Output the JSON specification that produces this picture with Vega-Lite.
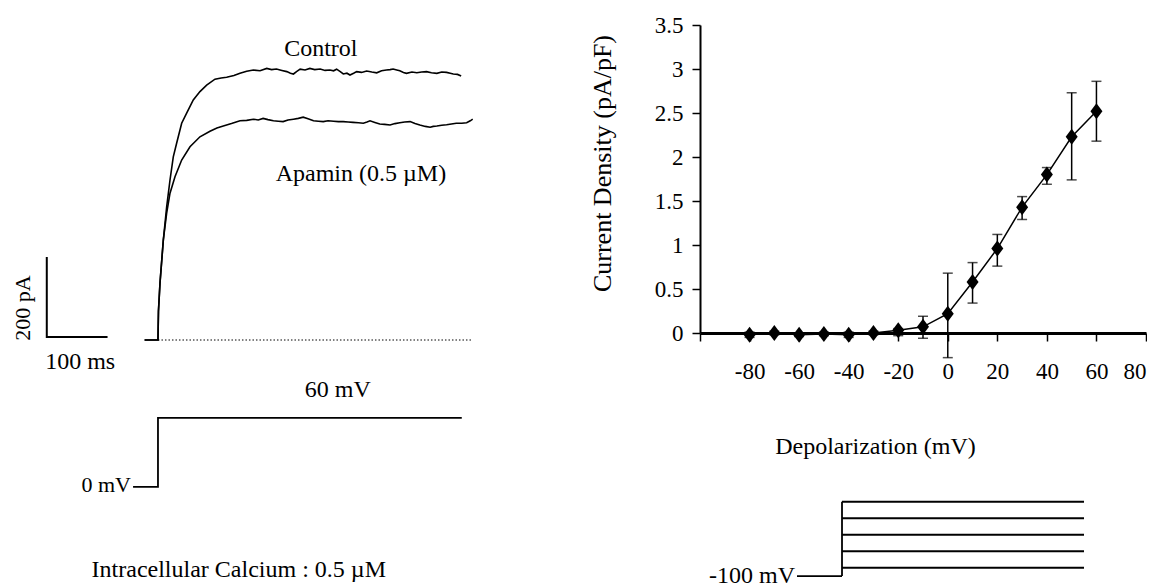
{
  "$schema": "https://vega.github.io/schema/vega-lite/v6.json",
  "padding": 0,
  "background": "white",
  "bounds": "flush",
  "spacing": 220,
  "config": {
    "view": {"stroke": null},
    "font": "Liberation Serif",
    "text": {"font": "Liberation Serif", "fontSize": 24, "color": "black"},
    "axis": {
      "labelFont": "Liberation Serif", "titleFont": "Liberation Serif",
      "labelFontSize": 23, "titleFontSize": 24, "labelColor": "black", "titleColor": "black",
      "titleFontWeight": "normal", "domainColor": "black", "tickColor": "black",
      "tickWidth": 1.5, "grid": false, "tickSize": 8
    }
  },
  "datasets": {
    "traces": [
      {"series": "Control", "t": -22, "I": 0}, {"series": "Control", "t": 0, "I": 0}, {"series": "Control", "t": 0.8, "I": 72},
      {"series": "Control", "t": 3.3, "I": 142}, {"series": "Control", "t": 8.8, "I": 250}, {"series": "Control", "t": 14.3, "I": 333},
      {"series": "Control", "t": 19.8, "I": 400}, {"series": "Control", "t": 25.2, "I": 458}, {"series": "Control", "t": 30.7, "I": 492},
      {"series": "Control", "t": 39, "I": 542}, {"series": "Control", "t": 47.2, "I": 567}, {"series": "Control", "t": 58.1, "I": 600},
      {"series": "Control", "t": 69.1, "I": 621}, {"series": "Control", "t": 80.1, "I": 637}, {"series": "Control", "t": 93.8, "I": 652},
      {"series": "Control", "t": 104, "I": 655}, {"series": "Control", "t": 113, "I": 657}, {"series": "Control", "t": 125, "I": 661},
      {"series": "Control", "t": 135, "I": 667}, {"series": "Control", "t": 146, "I": 672}, {"series": "Control", "t": 157, "I": 675},
      {"series": "Control", "t": 168, "I": 673}, {"series": "Control", "t": 179, "I": 679}, {"series": "Control", "t": 187, "I": 676},
      {"series": "Control", "t": 195, "I": 677.5}, {"series": "Control", "t": 204, "I": 674}, {"series": "Control", "t": 212, "I": 671},
      {"series": "Control", "t": 218, "I": 667}, {"series": "Control", "t": 223, "I": 665}, {"series": "Control", "t": 228, "I": 671},
      {"series": "Control", "t": 234, "I": 677}, {"series": "Control", "t": 242, "I": 675}, {"series": "Control", "t": 250, "I": 679},
      {"series": "Control", "t": 258, "I": 676}, {"series": "Control", "t": 267, "I": 677.5}, {"series": "Control", "t": 275, "I": 674},
      {"series": "Control", "t": 283, "I": 675}, {"series": "Control", "t": 289, "I": 673}, {"series": "Control", "t": 294, "I": 677},
      {"series": "Control", "t": 300, "I": 671}, {"series": "Control", "t": 305, "I": 665}, {"series": "Control", "t": 311, "I": 667},
      {"series": "Control", "t": 316, "I": 662.5}, {"series": "Control", "t": 322, "I": 667}, {"series": "Control", "t": 327, "I": 671},
      {"series": "Control", "t": 335, "I": 669}, {"series": "Control", "t": 343.5, "I": 672.5}, {"series": "Control", "t": 352, "I": 670},
      {"series": "Control", "t": 360, "I": 668}, {"series": "Control", "t": 368, "I": 673}, {"series": "Control", "t": 376, "I": 675},
      {"series": "Control", "t": 382, "I": 676}, {"series": "Control", "t": 387, "I": 677.5}, {"series": "Control", "t": 393, "I": 675},
      {"series": "Control", "t": 398, "I": 673}, {"series": "Control", "t": 404, "I": 669}, {"series": "Control", "t": 409, "I": 666.7},
      {"series": "Control", "t": 418, "I": 670}, {"series": "Control", "t": 426, "I": 668}, {"series": "Control", "t": 434, "I": 670},
      {"series": "Control", "t": 442, "I": 671}, {"series": "Control", "t": 450, "I": 668}, {"series": "Control", "t": 459, "I": 666.7},
      {"series": "Control", "t": 467, "I": 670}, {"series": "Control", "t": 475, "I": 669}, {"series": "Control", "t": 481, "I": 667},
      {"series": "Control", "t": 486, "I": 665}, {"series": "Control", "t": 493, "I": 664}, {"series": "Control", "t": 499, "I": 660},
      {"series": "Apamin", "t": -22, "I": 0}, {"series": "Apamin", "t": 0, "I": 0}, {"series": "Apamin", "t": 0.8, "I": 72},
      {"series": "Apamin", "t": 3.3, "I": 142}, {"series": "Apamin", "t": 8.8, "I": 250}, {"series": "Apamin", "t": 14.3, "I": 317},
      {"series": "Apamin", "t": 19.8, "I": 367}, {"series": "Apamin", "t": 28, "I": 408}, {"series": "Apamin", "t": 39, "I": 450},
      {"series": "Apamin", "t": 52.7, "I": 483}, {"series": "Apamin", "t": 69.1, "I": 508}, {"series": "Apamin", "t": 85.6, "I": 522},
      {"series": "Apamin", "t": 97, "I": 530}, {"series": "Apamin", "t": 107.5, "I": 535}, {"series": "Apamin", "t": 121, "I": 541},
      {"series": "Apamin", "t": 135, "I": 548}, {"series": "Apamin", "t": 146, "I": 549}, {"series": "Apamin", "t": 157, "I": 552},
      {"series": "Apamin", "t": 165, "I": 550}, {"series": "Apamin", "t": 173, "I": 554}, {"series": "Apamin", "t": 181, "I": 551},
      {"series": "Apamin", "t": 190, "I": 548}, {"series": "Apamin", "t": 198, "I": 547}, {"series": "Apamin", "t": 206, "I": 546},
      {"series": "Apamin", "t": 214, "I": 550}, {"series": "Apamin", "t": 223, "I": 552}, {"series": "Apamin", "t": 231, "I": 554},
      {"series": "Apamin", "t": 239, "I": 557}, {"series": "Apamin", "t": 247, "I": 553}, {"series": "Apamin", "t": 256, "I": 548},
      {"series": "Apamin", "t": 264, "I": 547}, {"series": "Apamin", "t": 272, "I": 546}, {"series": "Apamin", "t": 280, "I": 548},
      {"series": "Apamin", "t": 289, "I": 547}, {"series": "Apamin", "t": 297, "I": 546}, {"series": "Apamin", "t": 305, "I": 546},
      {"series": "Apamin", "t": 313, "I": 545}, {"series": "Apamin", "t": 321, "I": 544}, {"series": "Apamin", "t": 330, "I": 543},
      {"series": "Apamin", "t": 338, "I": 542}, {"series": "Apamin", "t": 344, "I": 545}, {"series": "Apamin", "t": 349, "I": 548},
      {"series": "Apamin", "t": 357, "I": 544}, {"series": "Apamin", "t": 365, "I": 540}, {"series": "Apamin", "t": 373, "I": 539},
      {"series": "Apamin", "t": 382, "I": 537.5}, {"series": "Apamin", "t": 390, "I": 541}, {"series": "Apamin", "t": 398, "I": 543},
      {"series": "Apamin", "t": 406, "I": 545}, {"series": "Apamin", "t": 415, "I": 546}, {"series": "Apamin", "t": 423, "I": 541},
      {"series": "Apamin", "t": 431, "I": 537.5}, {"series": "Apamin", "t": 440, "I": 534}, {"series": "Apamin", "t": 448, "I": 532},
      {"series": "Apamin", "t": 453, "I": 534}, {"series": "Apamin", "t": 459, "I": 535}, {"series": "Apamin", "t": 467, "I": 537},
      {"series": "Apamin", "t": 475, "I": 538}, {"series": "Apamin", "t": 483, "I": 540}, {"series": "Apamin", "t": 491, "I": 542},
      {"series": "Apamin", "t": 500, "I": 542}, {"series": "Apamin", "t": 508, "I": 543}, {"series": "Apamin", "t": 514, "I": 548},
      {"series": "Apamin", "t": 518, "I": 552}
    ],
    "baseline": [{"t": 0, "I": 0}, {"t": 518, "I": 0}],
    "scalebar": [{"k": 0, "t": -183, "I": 207.5}, {"k": 1, "t": -183, "I": 7.5}, {"k": 2, "t": -83, "I": 7.5}],
    "stepLeft": [{"k": 0, "t": -41, "V": 0}, {"k": 1, "t": 0, "V": 0}, {"k": 2, "t": 0, "V": 60}, {"k": 3, "t": 500, "V": 60}],
    "labelsI": [
      {"label": "Control", "t": 268, "I": 710},
      {"label": "Apamin (0.5 µM)", "t": 334, "I": 397},
      {"label": "100 ms", "t": -128, "I": -72.5}
    ],
    "labelsV": [
      {"label": "60 mV", "t": 296, "V": 78.5},
      {"label": "Intracellular Calcium : 0.5 µM", "t": 133, "V": -78}
    ],
    "iv": [
      {"mV": -80, "J": -0.02, "lo": -0.05, "hi": 0.01},
      {"mV": -70, "J": 0.0, "lo": -0.02, "hi": 0.02},
      {"mV": -60, "J": -0.02, "lo": -0.04, "hi": 0.0},
      {"mV": -50, "J": -0.01, "lo": -0.03, "hi": 0.01},
      {"mV": -40, "J": -0.02, "lo": -0.05, "hi": 0.01},
      {"mV": -30, "J": 0.0, "lo": -0.02, "hi": 0.02},
      {"mV": -20, "J": 0.03, "lo": -0.03, "hi": 0.05},
      {"mV": -10, "J": 0.07, "lo": -0.06, "hi": 0.19},
      {"mV": 0, "J": 0.22, "lo": -0.28, "hi": 0.68},
      {"mV": 10, "J": 0.58, "lo": 0.34, "hi": 0.8},
      {"mV": 20, "J": 0.96, "lo": 0.76, "hi": 1.12},
      {"mV": 30, "J": 1.43, "lo": 1.29, "hi": 1.55},
      {"mV": 40, "J": 1.8, "lo": 1.69, "hi": 1.88},
      {"mV": 50, "J": 2.23, "lo": 1.74, "hi": 2.73},
      {"mV": 60, "J": 2.52, "lo": 2.18, "hi": 2.86}
    ],
    "protocol": [
      {"t1": -93, "t2": 0, "v1": -100, "v2": -100},
      {"t1": 0, "t2": 0, "v1": -100, "v2": -10},
      {"t1": 0, "t2": 500, "v1": -90, "v2": -90},
      {"t1": 0, "t2": 500, "v1": -70, "v2": -70},
      {"t1": 0, "t2": 500, "v1": -50, "v2": -50},
      {"t1": 0, "t2": 500, "v1": -30, "v2": -30},
      {"t1": 0, "t2": 500, "v1": -10, "v2": -10}
    ],
    "protocolLabel": [{"label": "-100 mV", "t": -97, "V": -108}]
  },
  "hconcat": [
    {
      "width": 480,
      "height": 587,
      "resolve": {"scale": {"y": "independent"}},
      "layer": [
        {
          "data": {"name": "baseline"},
          "mark": {"type": "line", "color": "black", "strokeWidth": 1, "strokeDash": [1.5, 2]},
          "encoding": {
            "x": {"field": "t", "type": "quantitative", "scale": {"domain": [-260, 530], "nice": false, "zero": false}, "axis": null},
            "y": {"field": "I", "type": "quantitative", "scale": {"domain": [-617.5, 850], "nice": false, "zero": false}, "axis": null}
          }
        },
        {
          "data": {"name": "traces"},
          "mark": {"type": "line", "color": "black", "strokeWidth": 1.6},
          "encoding": {
            "x": {"field": "t", "type": "quantitative", "scale": {"domain": [-260, 530], "nice": false, "zero": false}, "axis": null},
            "y": {"field": "I", "type": "quantitative", "scale": {"domain": [-617.5, 850], "nice": false, "zero": false}, "axis": null},
            "detail": {"field": "series"}
          }
        },
        {
          "data": {"name": "scalebar"},
          "mark": {"type": "line", "color": "black", "strokeWidth": 2},
          "encoding": {
            "x": {"field": "t", "type": "quantitative", "scale": {"domain": [-260, 530], "nice": false, "zero": false}, "axis": null},
            "y": {"field": "I", "type": "quantitative", "scale": {"domain": [-617.5, 850], "nice": false, "zero": false}, "axis": null},
            "order": {"field": "k"}
          }
        },
        {
          "data": {"name": "labelsI"},
          "mark": {"type": "text", "align": "center", "baseline": "alphabetic"},
          "encoding": {
            "x": {"field": "t", "type": "quantitative", "scale": {"domain": [-260, 530], "nice": false, "zero": false}, "axis": null},
            "y": {"field": "I", "type": "quantitative", "scale": {"domain": [-617.5, 850], "nice": false, "zero": false}, "axis": null},
            "text": {"field": "label"}
          }
        },
        {
          "data": {"values": [{"label": "200 pA", "t": -210.7, "I": 80}]},
          "mark": {"type": "text", "align": "center", "baseline": "alphabetic", "angle": 270, "fontSize": 22},
          "encoding": {
            "x": {"field": "t", "type": "quantitative", "scale": {"domain": [-260, 530], "nice": false, "zero": false}, "axis": null},
            "y": {"field": "I", "type": "quantitative", "scale": {"domain": [-617.5, 850], "nice": false, "zero": false}, "axis": null},
            "text": {"field": "label"}
          }
        },
        {
          "data": {"name": "stepLeft"},
          "mark": {"type": "line", "color": "black", "strokeWidth": 1.8},
          "encoding": {
            "x": {"field": "t", "type": "quantitative", "scale": {"domain": [-260, 530], "nice": false, "zero": false}, "axis": null},
            "y": {"field": "V", "type": "quantitative", "scale": {"domain": [-87, 423.5], "nice": false, "zero": false}, "axis": null},
            "order": {"field": "k"}
          }
        },
        {
          "data": {"name": "labelsV"},
          "mark": {"type": "text", "align": "center", "baseline": "alphabetic"},
          "encoding": {
            "x": {"field": "t", "type": "quantitative", "scale": {"domain": [-260, 530], "nice": false, "zero": false}, "axis": null},
            "y": {"field": "V", "type": "quantitative", "scale": {"domain": [-87, 423.5], "nice": false, "zero": false}, "axis": null},
            "text": {"field": "label"}
          }
        },
        {
          "data": {"values": [{"label": "0 mV", "t": -44.4, "V": -4}]},
          "mark": {"type": "text", "align": "right", "baseline": "alphabetic", "fontSize": 22},
          "encoding": {
            "x": {"field": "t", "type": "quantitative", "scale": {"domain": [-260, 530], "nice": false, "zero": false}, "axis": null},
            "y": {"field": "V", "type": "quantitative", "scale": {"domain": [-87, 423.5], "nice": false, "zero": false}, "axis": null},
            "text": {"field": "label"}
          }
        }
      ]
    },
    {
      "bounds": "flush",
      "spacing": 10,
      "vconcat": [
        {
          "width": 446,
          "height": 15,
          "data": {"values": []},
          "mark": "point"
        },
        {
          "width": 446,
          "height": 308,
          "data": {"name": "iv"},
          "encoding": {
            "x": {
              "field": "mV", "type": "quantitative",
              "scale": {"domain": [-100, 80], "nice": false, "zero": false},
              "axis": {
                "title": "Depolarization (mV)",
                "values": [-100, -80, -60, -40, -20, 0, 20, 40, 60, 80],
                "labelExpr": "datum.value == -100 ? '' : '' + datum.value",
                "domainWidth": 3,
                "labelPadding": 19,
                "titleX": 175,
                "titleY": 120,
                "titleBaseline": "alphabetic",
                "titleAlign": "center"
              }
            }
          },
          "layer": [
            {
              "mark": {"type": "line", "color": "black", "strokeWidth": 1.5},
              "encoding": {
                "y": {
                  "field": "J", "type": "quantitative",
                  "scale": {"domain": [0, 3.5], "nice": false},
                  "axis": {
                    "title": "Current Density (pA/pF)",
                    "values": [0, 0.5, 1, 1.5, 2, 2.5, 3, 3.5],
                    "format": "~g",
                    "domainWidth": 2,
                    "labelPadding": 9,
                    "titleFontSize": 26,
                    "titleX": -90,
                    "titleY": 138,
                    "titleBaseline": "alphabetic",
                    "titleAlign": "center",
                    "titleAngle": 270
                  }
                }
              }
            },
            {
              "mark": {"type": "errorbar", "ticks": {"size": 10, "thickness": 1.5, "color": "black"}, "rule": {"strokeWidth": 1.5, "color": "black"}},
              "encoding": {
                "y": {"field": "lo", "type": "quantitative", "title": "Current Density (pA/pF)"},
                "y2": {"field": "hi"}
              }
            },
            {
              "mark": {"type": "point", "shape": "M0,-1L0.75,0L0,1L-0.75,0Z", "filled": true, "color": "black", "opacity": 1, "size": 256},
              "encoding": {
                "y": {"field": "J", "type": "quantitative", "title": "Current Density (pA/pF)"}
              }
            }
          ]
        },
        {
          "width": 446,
          "height": 244,
          "layer": [
            {
              "data": {"name": "protocol"},
              "mark": {"type": "rule", "color": "black", "strokeWidth": 1.8},
              "encoding": {
                "x": {"field": "t1", "type": "quantitative", "scale": {"domain": [-293.4, 628.1], "nice": false, "zero": false}, "axis": null},
                "x2": {"field": "t2"},
                "y": {"field": "v1", "type": "quantitative", "scale": {"domain": [-113.3, 182.4], "nice": false, "zero": false}, "axis": null},
                "y2": {"field": "v2"}
              }
            },
            {
              "data": {"name": "protocolLabel"},
              "mark": {"type": "text", "align": "right", "baseline": "alphabetic"},
              "encoding": {
                "x": {"field": "t", "type": "quantitative", "scale": {"domain": [-293.4, 628.1], "nice": false, "zero": false}, "axis": null},
                "y": {"field": "V", "type": "quantitative", "scale": {"domain": [-113.3, 182.4], "nice": false, "zero": false}, "axis": null},
                "text": {"field": "label"}
              }
            }
          ]
        }
      ]
    }
  ]
}
